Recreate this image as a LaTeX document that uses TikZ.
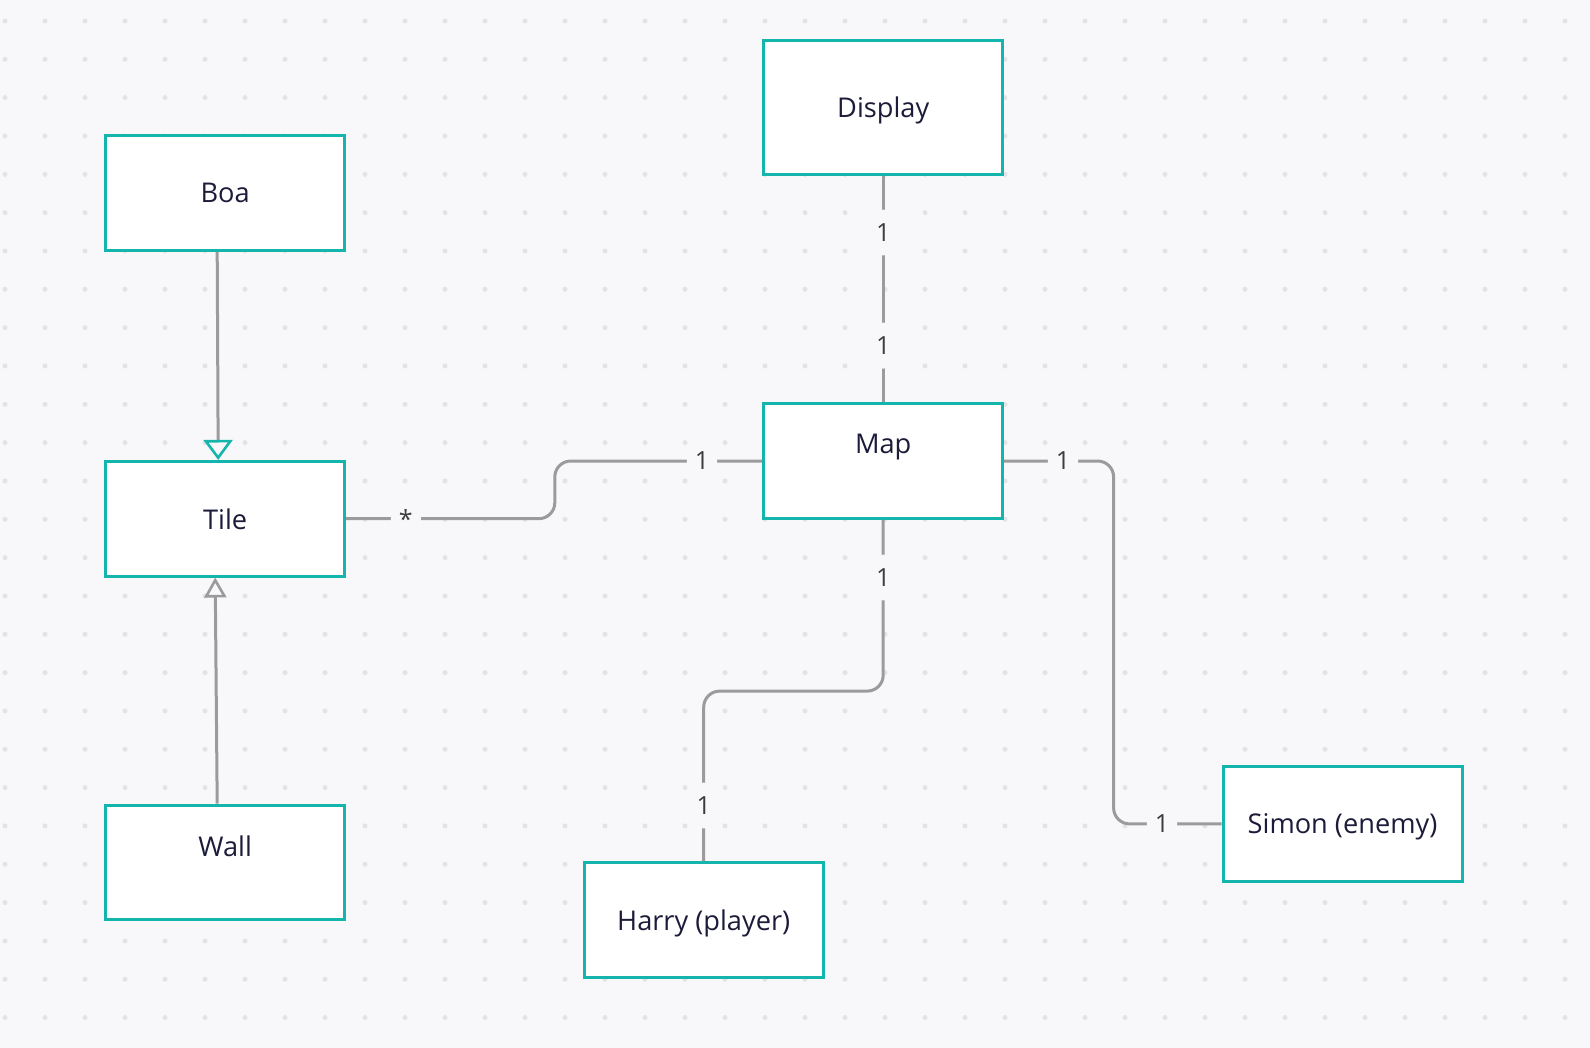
\documentclass[tikz,border=0pt]{standalone}
\usepackage{fontspec}
\setmainfont{Open Sans}
\usetikzlibrary{arrows.meta}
\usetikzlibrary{calc}
\definecolor{umlteal}{RGB}{20,181,172}
\definecolor{umlline}{RGB}{155,155,155}
\definecolor{umlbg}{RGB}{248,248,250}
\definecolor{umldot}{RGB}{226,226,231}
\definecolor{umlink}{RGB}{28,28,58}
\definecolor{umllbl}{RGB}{60,60,60}
\newcommand{\clsw}{119.5pt}
\newcommand{\clsh}{57.3pt}
\newcommand{\clshb}{67pt}
\newcommand{\txtup}{8.4pt}
\newcommand{\dotdx}{40}
\newcommand{\dotdy}{38.33}

\begin{document}
\begin{tikzpicture}[x=0.5pt, y=-0.5pt,
    clstext/.style={text=umlink, font=\fontsize{13.6}{16}\selectfont, text depth=0pt},
    cls/.style={draw=umlteal, line width=1.5pt, fill=white, clstext,
      minimum width=\clsw, minimum height=\clsh, inner sep=0pt},
    clstop/.style={cls, label={[clstext, yshift=\txtup]center:#1}},
    assoc/.style={draw=umlline, line width=1.5pt, rounded corners=8pt},
    mult/.style={fill=umlbg, text=umllbl, font=\fontsize{12.5}{14}\selectfont,
      inner xsep=4pt, inner ysep=7pt}]

    % canvas and dot grid
    \useasboundingbox (0,0) rectangle (1590,1048);
    \fill [umlbg] (0,0) rectangle (1590,1048);
    \foreach \i in {0,...,39}
      \foreach \j in {0,...,26}
        \fill [umldot] (5+\dotdx*\i, 21+\dotdy*\j) circle (1.25pt);

    % classes
    \node [cls, minimum height=\clshb] (display) at (883.2,107.5) {Display};
    \node [cls] (boa) at (225.2,193.2) {Boa};
    \node [cls] (tile) at (225.2,518.7) {Tile};
    \node [clstop=Wall] (wall) at (225.2,862.5) {};
    \node [clstop=Map] (map) at (883.2,461) {};
    \node [cls] (harry) at (703.7,920.2) {Harry (player)};
    \node [cls] (simon) at (1342.5,823.9) {Simon (enemy)};

    % inheritance
    \draw [assoc, -{Triangle[open, color=umlteal, length=10pt, width=14.5pt, line width=1.3pt]}]
      ($(boa.south)+(-8,0)$) -- ($(tile.north)+(-7,0)$);
    \draw [assoc, -{Triangle[open, length=10pt, width=11pt, line width=1.3pt]}]
      ($(wall.north)+(-8,0)$) -- ($(tile.south)+(-10,0)$);

    % associations
    \draw [assoc] (display.south)
      -- node [mult, pos=.25] {1} node [mult, pos=.75] {1} (map.north);
    \draw [assoc] (tile.east)
      -- node [mult, pos=.286] {*} ++(208.6,0)
      |- node [mult, pos=.855] {1} (map.west);
    \draw [assoc] (map.south)
      -- node [mult, pos=.337] {1} ++(0,171.3)
      -| node [mult, pos=.836] {1} (harry.north);
    \draw [assoc] (map.east)
      -- node [mult, pos=.537] {1} ++(109.4,0)
      |- node [mult, pos=.724] {1} (simon.west);

  \end{tikzpicture}
\end{document}
